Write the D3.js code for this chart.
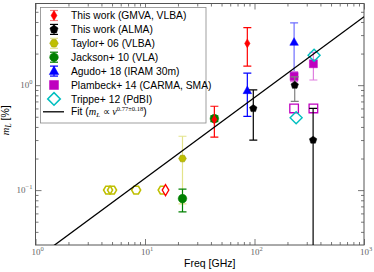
<!DOCTYPE html>
<html>
<head>
<meta charset="utf-8">
<script src="https://cdn.jsdelivr.net/npm/d3@7"></script>
<style>
body { margin: 0; background: #fff; }
svg { display: block; font-family: "Liberation Sans", Arial, sans-serif; }
</style>
</head>
<body>
<svg id="chart" width="374" height="272"></svg>
<script>
'use strict';

// This work (GMVA, VLBA)
const gmvaFreq = [43, 86];
const gmvaVal = [0.47, 2.5];
const gmvaLo = [0.32, 1.52];
const gmvaHi = [0.63, 3.54];
const gmvaLimFreq = [15.4];
const gmvaLimVal = [0.1];

// This work (ALMA)
const almaFreq = [97.5, 233, 343];
const almaVal = [0.6, 1.0, 0.3];
const almaLo = [0.3, 0.7, 0.001];
const almaHi = [0.9, 1.2, 0.6];

// Taylor+ 06 (VLBA)
const taylorFreq = [22];
const taylorVal = [0.2];
const taylorLo = [0.074];
const taylorHi = [0.326];
const taylorLimFreq = [4.6, 5.0, 8.3, 14.5];
const taylorLimVal = [0.1, 0.1, 0.1, 0.1];

// Jackson+ 10 (VLA)
const jacksonFreq = [43, 22];
const jacksonVal = [0.48, 0.083];
const jacksonLo = [0.45, 0.062];
const jacksonHi = [0.51, 0.102];

// Agudo+ 18 (IRAM 30m)
const agudoFreq = [86, 230];
const agudoVal = [0.89, 2.57];
const agudoLo = [0.505, 1.31];
const agudoHi = [1.3, 3.93];

// Plambeck+ 14 (CARMA, SMA)
const plambeckFreq = [230, 345];
const plambeckVal = [1.21, 1.6];
const plambeckLo = [1.08, 1.12];
const plambeckHi = [1.35, 2.05];
const plambeckLimFreq = [230, 345];
const plambeckLimVal = [0.6, 0.6];

// Trippe+ 12 (PdBI)
const trippeFreq = [240, 350];
const trippeVal = [0.49, 1.93];

// fit m_L = a * nu^b
const fitCoef = 0.022;
const fitIndex = 0.77;
const fitFreq = [1, 1000];

const xTicks = [1, 10, 100, 1000];
const yTicks = [0.1, 1];

(function() {
    const d3 = window.d3;
    const svg = d3.select('#chart');
    const box = {left: 35.5, right: 364, top: 3.5, bottom: 245};
    const axisColor = '#555';

    const x = d3.scaleLog().domain([1, 1000]).range([box.left, box.right]);
    const y = d3.scaleLog().domain([0.03, 6]).range([box.bottom, box.top]);

    function minors(lo, hi) {
        const out = [];
        for (let e = Math.floor(Math.log10(lo)); e < Math.ceil(Math.log10(hi)); e++) {
            for (let k = 2; k < 10; k++) {
                const v = k * Math.pow(10, e);
                if (v > lo * 1.0001 && v < hi * 0.9999) out.push(v);
            }
        }
        return out;
    }
    const xMinor = minors(1, 1000);
    const yMinor = minors(0.03, 6);

    // Axes (ticks point inward on all four sides)
    function styleAxis(g) {
        g.select('.domain').remove();
        g.selectAll('line').attr('stroke', axisColor).attr('stroke-width', 0.8);
    }
    const axes = [
        [d3.axisBottom(x), 'translate(0,' + box.bottom + ')', xTicks, xMinor],
        [d3.axisTop(x), 'translate(0,' + box.top + ')', xTicks, xMinor],
        [d3.axisLeft(y), 'translate(' + box.left + ',0)', yTicks, yMinor],
        [d3.axisRight(y), 'translate(' + box.right + ',0)', yTicks, yMinor]
    ];
    axes.forEach(a => {
        svg.append('g').attr('transform', a[1])
            .call(a[0].tickValues(a[2]).tickFormat('').tickSize(-6))
            .call(styleAxis);
        svg.append('g').attr('transform', a[1])
            .call(a[0].tickValues(a[3]).tickFormat('').tickSize(-3))
            .call(styleAxis);
    });
    svg.append('rect')
        .attr('x', box.left).attr('y', box.top)
        .attr('width', box.right - box.left).attr('height', box.bottom - box.top)
        .attr('fill', 'none').attr('stroke', axisColor).attr('stroke-width', 1);

    // Tick labels 10^n
    function powerLabel(g, v, px, py, anchor) {
        const e = Math.round(Math.log10(v));
        const t = g.append('text')
            .attr('x', px).attr('y', py)
            .attr('text-anchor', anchor)
            .attr('fill', '#666')
            .style('font-family', '"Liberation Serif", "DejaVu Serif", serif')
            .style('font-size', '9px');
        t.append('tspan').text('10');
        t.append('tspan').attr('dy', -4).style('font-size', '6.5px')
            .text(e < 0 ? '\u2212' + (-e) : String(e));
    }
    const labels = svg.append('g');
    xTicks.forEach(v => powerLabel(labels, v, x(v) + 2, box.bottom + 10, 'middle'));
    yTicks.forEach(v => powerLabel(labels, v, box.left - 3, y(v) + 3, 'end'));

    // Axis titles
    svg.append('text')
        .attr('x', (box.left + box.right) / 2 + 10).attr('y', 267)
        .attr('text-anchor', 'middle')
        .style('font-size', '10.5px')
        .text('Freq [GHz]');
    const yt = svg.append('text')
        .attr('transform', 'translate(9,' + ((box.top + box.bottom) / 2 - 4) + ') rotate(-90)')
        .attr('text-anchor', 'middle')
        .style('font-size', '10.5px');
    yt.append('tspan').style('font-family', '"Liberation Serif", serif').style('font-style', 'italic').text('m');
    yt.append('tspan').attr('dy', 2).style('font-family', '"Liberation Serif", serif').style('font-style', 'italic').style('font-size', '7.5px').text('L');
    yt.append('tspan').attr('dy', -2).text(' [%]');

    // Plot content, clipped to the axes box
    svg.append('clipPath').attr('id', 'clip')
        .append('rect')
        .attr('x', box.left).attr('y', box.top)
        .attr('width', box.right - box.left).attr('height', box.bottom - box.top);
    const plot = svg.append('g').attr('clip-path', 'url(#clip)');

    // marker shapes
    function polygon(n, r, rot) {
        const pts = d3.range(n).map(i => {
            const a = rot + i * 2 * Math.PI / n;
            return [r * Math.sin(a), -r * Math.cos(a)];
        });
        return 'M' + pts.map(p => p[0].toFixed(2) + ',' + p[1].toFixed(2)).join('L') + 'Z';
    }
    const shapes = {
        thinDiamond: s => 'M0,' + (-s) + 'L' + (s * 0.6) + ',0L0,' + s + 'L' + (-s * 0.6) + ',0Z',
        diamond: s => polygon(4, s, 0),
        pentagon: s => polygon(5, s, 0),
        hexagon: s => polygon(6, s, Math.PI / 6),
        triangle: s => 'M0,' + (-s) + 'L' + (s * 0.95) + ',' + (s * 0.7) + 'L' + (-s * 0.95) + ',' + (s * 0.7) + 'Z',
        square: s => 'M' + (-s) + ',' + (-s) + 'H' + s + 'V' + s + 'H' + (-s) + 'Z',
        circle: s => d3.arc()({innerRadius: 0, outerRadius: s, startAngle: 0, endAngle: 2 * Math.PI})
    };

    function errorBars(freq, lo, hi, color) {
        const g = plot.append('g').attr('stroke', color).attr('stroke-width', 1.2);
        freq.forEach((f, i) => {
            const cx = x(f);
            g.append('line').attr('x1', cx).attr('x2', cx).attr('y1', y(lo[i])).attr('y2', y(hi[i]));
            [lo[i], hi[i]].forEach(v => {
                g.append('line').attr('x1', cx - 4).attr('x2', cx + 4).attr('y1', y(v)).attr('y2', y(v));
            });
        });
    }
    function markers(freq, val, shape, size, fill, stroke, sw) {
        plot.append('g').selectAll('path')
            .data(freq.map((f, i) => [f, val[i]]))
            .enter()
            .append('path')
            .attr('transform', d => 'translate(' + x(d[0]) + ',' + y(d[1]) + ')')
            .attr('d', shapes[shape](size))
            .attr('fill', fill)
            .attr('stroke', stroke)
            .attr('stroke-width', sw);
    }

    const red = '#ff0000';
    const olive = '#bfbf00';
    const green = '#008000';
    const blue = '#0000ff';
    const magenta = '#bf00bf';
    const cyan = '#00bfbf';

    // Taylor
    errorBars(taylorFreq, taylorLo, taylorHi, '#e3e38a');
    markers(taylorLimFreq, taylorLimVal, 'hexagon', 4.5, 'none', olive, 1.6);
    markers(taylorFreq, taylorVal, 'hexagon', 3.8, olive, '#9a9a00', 0.6);
    // Jackson
    errorBars(jacksonFreq, jacksonLo, jacksonHi, green);
    markers(jacksonFreq, jacksonVal, 'circle', 4.3, green, green, 0.5);
    // This work GMVA/VLBA
    errorBars(gmvaFreq, gmvaLo, gmvaHi, red);
    markers(gmvaFreq, gmvaVal, 'thinDiamond', 4.5, red, red, 0.5);
    markers(gmvaLimFreq, gmvaLimVal, 'thinDiamond', 5.5, '#fff', red, 1.3);
    // Agudo
    errorBars([agudoFreq[0]], [agudoLo[0]], [agudoHi[0]], blue);
    errorBars([agudoFreq[1]], [agudoLo[1]], [agudoHi[1]], '#6f6fff');
    markers(agudoFreq, agudoVal, 'triangle', 4.5, blue, blue, 0.5);
    // Plambeck
    errorBars(plambeckFreq, plambeckLo, plambeckHi, '#df7fdf');
    markers(plambeckLimFreq, plambeckLimVal, 'square', 4.3, 'none', magenta, 1.3);
    markers(plambeckFreq, plambeckVal, 'square', 4, magenta, magenta, 0.5);
    // ALMA
    errorBars([almaFreq[0], almaFreq[2]], [almaLo[0], almaLo[2]], [almaHi[0], almaHi[2]], '#000');
    errorBars([almaFreq[1]], [almaLo[1]], [almaHi[1]], '#808080');
    markers(almaFreq, almaVal, 'pentagon', 3.9, '#000', '#000', 0.5);
    // Trippe
    markers(trippeFreq, trippeVal, 'diamond', 6, 'none', cyan, 1.4);

    // Fit line
    const line = d3.line().x(d => x(d)).y(d => y(fitCoef * Math.pow(d, fitIndex)));
    plot.append('path')
        .datum(fitFreq)
        .attr('d', line)
        .attr('fill', 'none')
        .attr('stroke', '#000')
        .attr('stroke-width', 1.3);

    // Legend
    const leg = svg.append('g');
    leg.append('rect')
        .attr('x', 40.5).attr('y', 7.5).attr('width', 165.5).attr('height', 115.5)
        .attr('fill', '#fff').attr('stroke', '#888').attr('stroke-width', 0.8);
    const entries = [
        {label: 'This work (GMVA, VLBA)', shape: 'thinDiamond', size: 5, fill: red, stroke: red, bar: '#f08080'},
        {label: 'This work (ALMA)', shape: 'pentagon', size: 4.3, fill: '#000', stroke: '#000', bar: '#000'},
        {label: 'Taylor+ 06 (VLBA)', shape: 'hexagon', size: 4.3, fill: olive, stroke: '#9a9a00', bar: '#e3e38a'},
        {label: 'Jackson+ 10 (VLA)', shape: 'circle', size: 4.3, fill: green, stroke: green, bar: green},
        {label: 'Agudo+ 18 (IRAM 30m)', shape: 'triangle', size: 5, fill: blue, stroke: blue, bar: blue},
        {label: 'Plambeck+ 14 (CARMA, SMA)', shape: 'square', size: 4.5, fill: magenta, stroke: magenta, bar: null},
        {label: 'Trippe+ 12 (PdBI)', shape: 'diamond', size: 6.3, fill: 'none', stroke: cyan, bar: null}
    ];
    const mx = 54;
    const row = i => 15.5 + i * 13.9;
    entries.forEach((e, i) => {
        const cy = row(i);
        if (e.bar) {
            const b = leg.append('g').attr('stroke', e.bar).attr('stroke-width', 1.2);
            b.append('line').attr('x1', mx).attr('x2', mx).attr('y1', cy - 5).attr('y2', cy + 5);
            b.append('line').attr('x1', mx - 4).attr('x2', mx + 4).attr('y1', cy - 5).attr('y2', cy - 5);
            b.append('line').attr('x1', mx - 4).attr('x2', mx + 4).attr('y1', cy + 5).attr('y2', cy + 5);
        }
        leg.append('path')
            .attr('transform', 'translate(' + mx + ',' + cy + ')')
            .attr('d', shapes[e.shape](e.size))
            .attr('fill', e.fill).attr('stroke', e.stroke)
            .attr('stroke-width', e.fill === 'none' ? 1.5 : 0.5);
        leg.append('text')
            .attr('x', 71).attr('y', cy + 3.6)
            .style('font-size', '10.3px')
            .text(e.label);
    });
    const fy = row(7) - 1;
    leg.append('line')
        .attr('x1', 43).attr('x2', 64).attr('y1', fy).attr('y2', fy)
        .attr('stroke', '#000').attr('stroke-width', 1.3);
    const ft = leg.append('text').attr('x', 71).attr('y', fy + 3.5).style('font-size', '10.3px');
    const serif = '"Liberation Serif", serif';
    ft.append('tspan').text('Fit (');
    ft.append('tspan').style('font-family', serif).style('font-style', 'italic').text('m');
    ft.append('tspan').attr('dy', 2).style('font-family', serif).style('font-style', 'italic').style('font-size', '7px').text('L');
    ft.append('tspan').attr('dy', -2).style('font-family', serif).text(' \u221D ');
    ft.append('tspan').style('font-family', serif).style('font-style', 'italic').text('\u03BD');
    ft.append('tspan').attr('dy', -4).style('font-family', serif).style('font-size', '6.5px').text('0.77\u00B10.18');
    ft.append('tspan').attr('dy', 4).text(')');
}());
</script>
</body>
</html>
